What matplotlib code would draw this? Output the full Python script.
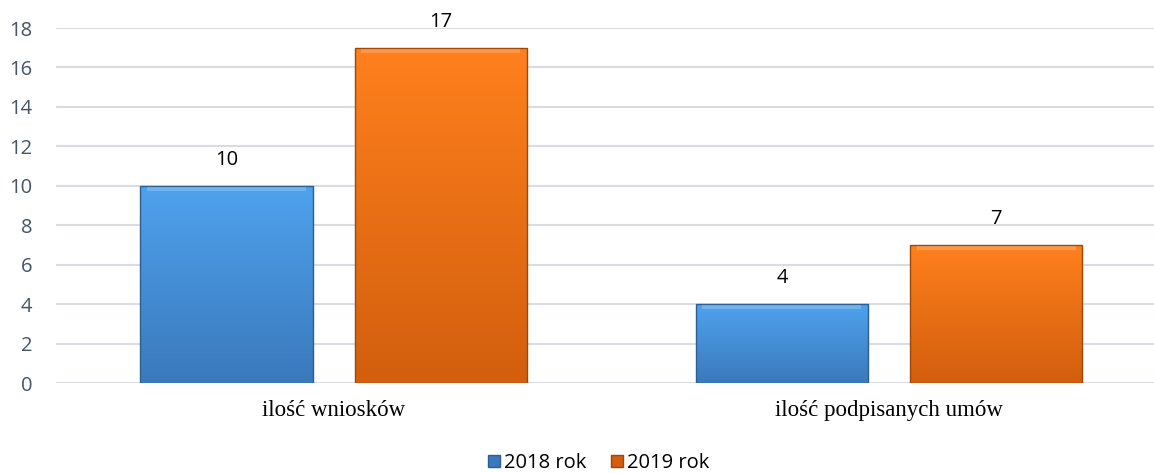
import matplotlib.pyplot as plt
import numpy as np
from matplotlib.colors import LinearSegmentedColormap
from matplotlib.patches import Patch

categories = ["ilość wniosków", "ilość podpisanych umów"]
series = ["2018 rok", "2019 rok"]
values_2018 = [10, 4]
values_2019 = [17, 7]

# gradient top -> bottom, plus edge colour
grad = {
    "2018 rok": ("#4FA2EE", "#3A79BB", "#2C5F91"),
    "2019 rok": ("#FF801D", "#D25E0E", "#9E4708"),
}

fig = plt.figure(figsize=(11.54, 4.73), dpi=100)
ax = fig.add_axes([56 / 1154, 90 / 473, 1 - 56 / 1154, 355 / 473])

x = np.arange(len(categories))
width = 0.31
offset = 0.193

for k, (name, vals) in enumerate([(series[0], values_2018), (series[1], values_2019)]):
    top, bot, edge = grad[name]
    cmap = LinearSegmentedColormap.from_list(name, [bot, top])
    bars = ax.bar(x + (k * 2 - 1) * offset, vals, width, color="none",
                  edgecolor=edge, linewidth=1.0, zorder=3)
    for b, v in zip(bars, vals):
        x0, y0 = b.get_x(), b.get_y()
        w, h = b.get_width(), b.get_height()
        img = ax.imshow(np.linspace(0, 1, 256).reshape(-1, 1), cmap=cmap,
                        extent=[x0, x0 + w, y0, y0 + h], origin="lower",
                        aspect="auto", zorder=2)
        img.set_clip_path(b)
        # soft bevel on top
        ax.plot([x0 + 0.012, x0 + w - 0.012], [y0 + h - 0.15, y0 + h - 0.15],
                color="white", alpha=0.2, lw=3, zorder=4, solid_capstyle="butt")
        ax.text(x0 + w / 2, y0 + h + 0.8, str(v),
                ha="center", va="bottom", fontsize=14.5, color="black",
                family="Open Sans")

ax.set_xlim(-0.5, 1.477)
ax.set_ylim(0, 18)
ax.set_yticks(range(0, 19, 2))
ax.set_xticks(x)
ax.set_xticklabels(categories, family="Liberation Serif", fontsize=16.5)
ax.tick_params(axis="x", length=0, pad=12)
ax.tick_params(axis="y", length=0, pad=17, labelsize=14.5, labelcolor="#44546A")
for lbl in ax.get_yticklabels():
    lbl.set_family("Open Sans")
ax.grid(axis="y", color="#D9DDE3", linewidth=1.5, zorder=0)
ax.set_axisbelow(True)
for s in ax.spines.values():
    s.set_visible(False)

handles = [Patch(facecolor=grad[s][1], edgecolor=grad[s][2], label=s) for s in series]
fig.legend(handles=handles, loc="center", bbox_to_anchor=(0.519, 10 / 473), ncol=2,
           frameon=False, handlelength=0.6, handleheight=0.6, handletextpad=0.2,
           columnspacing=1.2, prop={"family": "Open Sans", "size": 14.5})

fig.savefig("out.png", dpi=100)
